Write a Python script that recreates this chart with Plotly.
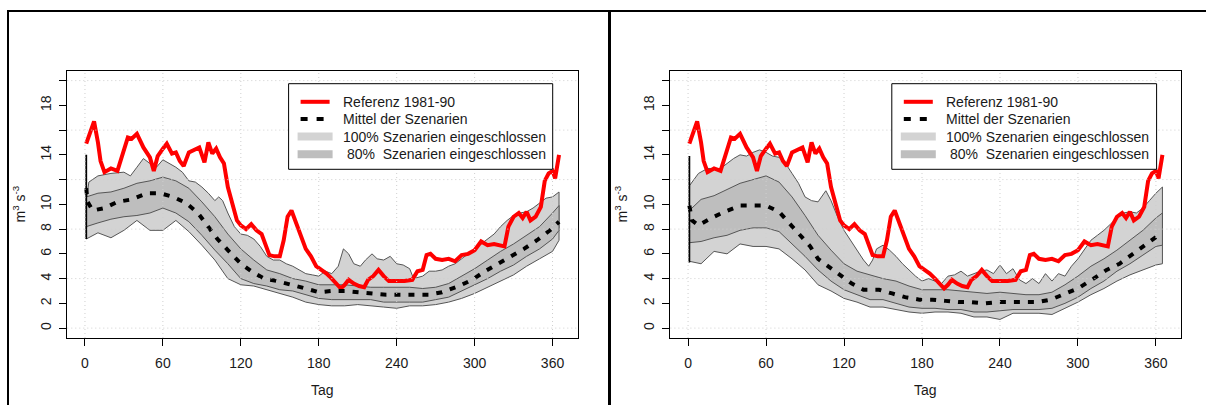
import plotly.graph_objects as go

W, H = 1206, 405

# Referenz 1981-90 (identisch in beiden Panels)
REF_DAY = [1, 4, 7, 10, 12, 15, 20, 25, 28, 33,
           36, 40, 45, 50, 53, 56, 60, 63, 67, 70,
           73, 76, 80, 85, 88, 92, 95, 98, 101, 104,
           107, 110, 113, 117, 120, 124, 128, 132, 136, 139,
           142, 146, 150, 153, 156, 159, 162, 166, 170, 174,
           178, 182, 186, 190, 194, 197, 200, 203, 207, 211,
           215, 218, 222, 226, 230, 234, 240, 246, 252, 256,
           260, 263, 266, 270, 275, 280, 285, 290, 295, 300,
           305, 310, 315, 320, 323, 326, 330, 334, 337, 340,
           343, 347, 351, 354, 357, 360, 362, 365]
REF_VAL = [14.9, 15.9, 16.7, 15.0, 13.5, 12.6, 12.9, 12.7, 13.8, 15.4,
           15.3, 15.7, 14.6, 13.8, 12.7, 13.9, 14.5, 14.9, 14.1, 14.2,
           13.5, 13.1, 14.2, 14.5, 14.6, 13.4, 15.0, 14.1, 14.5, 13.8,
           13.3, 11.4, 10.3, 8.7, 8.3, 8.0, 8.4, 7.9, 7.6, 6.8,
           5.9, 5.8, 5.8, 7.1, 9.0, 9.5, 8.6, 7.6, 6.4, 5.8,
           5.0, 4.7, 4.4, 4.0, 3.6, 3.2, 3.5, 3.9, 3.6, 3.4,
           3.3, 3.9, 4.2, 4.7, 4.2, 3.8, 3.8, 3.8, 3.9, 4.6,
           4.7, 5.9, 6.0, 5.6, 5.5, 5.6, 5.4, 5.9, 6.0, 6.3,
           7.0, 6.7, 6.8, 6.7, 6.6, 8.2, 9.0, 9.3, 8.9, 9.4,
           8.7, 9.0, 9.8, 11.9, 12.5, 12.7, 12.1, 14.0]

# day grid used for most band edges
BAND_DAY = [1, 10, 20, 30, 40, 50, 60, 70, 80, 90,
            100, 110, 120, 130, 140, 150, 160, 170, 180, 190,
            200, 210, 220, 230, 240, 250, 260, 270, 280, 290,
            300, 310, 320, 330, 340, 350, 360, 365]

# ---- left panel ----
L_MEAN_DAY = [1, 2, 6, 15, 25, 36, 48, 58, 68, 78,
              87, 95, 102, 110, 120, 128, 138, 148, 160, 170,
              180, 190, 200, 210, 222, 232, 243, 255, 265, 275,
              288, 298, 308, 318, 328, 338, 348, 358, 365]
L_MEAN = [11.3, 10.2, 9.5, 9.7, 10.2, 10.4, 10.9, 10.9, 10.6, 10.1,
          9.3, 8.2, 7.2, 6.3, 5.2, 4.6, 4.0, 3.8, 3.5, 3.2,
          2.9, 3.0, 3.0, 2.9, 2.8, 2.7, 2.7, 2.7, 2.7, 2.9,
          3.4, 3.9, 4.6, 5.2, 5.8, 6.4, 7.1, 7.9, 8.6]
L_P80_HI = [10.6, 10.9, 11.0, 11.3, 11.7, 11.9, 12.2, 11.9, 11.3, 10.2,
            9.0, 7.6, 6.4, 5.5, 4.7, 4.4, 4.0, 3.8, 3.5, 3.5,
            3.5, 3.4, 3.3, 3.3, 3.3, 3.3, 3.2, 3.3, 3.6, 4.2,
            4.8, 5.5, 6.2, 6.8, 7.5, 8.2, 9.3, 9.9]
L_P80_LO = [8.2, 8.5, 8.8, 9.0, 9.1, 9.3, 9.7, 9.3, 8.6, 7.5,
            6.3, 5.2, 4.0, 3.6, 3.4, 3.1, 3.0, 2.7, 2.4, 2.3,
            2.3, 2.3, 2.3, 2.1, 2.1, 2.1, 2.1, 2.3, 2.5, 3.0,
            3.5, 4.0, 4.6, 5.1, 5.8, 6.4, 7.2, 7.9]
L_P100_LO = [7.2, 7.7, 7.3, 7.9, 8.7, 7.9, 7.9, 8.7, 7.8, 6.7,
             5.5, 4.0, 3.5, 3.4, 3.1, 2.8, 2.5, 2.1, 1.9, 1.8,
             1.8, 1.9, 1.8, 1.7, 1.6, 1.8, 1.8, 1.9, 2.1, 2.4,
             2.8, 3.3, 3.8, 4.3, 5.0, 5.6, 6.2, 7.1]
L_P100_HI_DAY = [1, 3, 10, 20, 30, 35, 40, 45, 50, 55,
                 60, 65, 70, 75, 80, 85, 90, 95, 100, 103,
                 106, 110, 115, 120, 125, 130, 135, 140, 145, 150,
                 155, 160, 165, 170, 175, 180, 185, 190, 195, 199,
                 203, 207, 212, 216, 221, 225, 230, 235, 240, 245,
                 250, 253, 260, 265, 270, 275, 280, 285, 290, 295,
                 300, 305, 310, 315, 320, 325, 330, 335, 340, 345,
                 350, 355, 360, 365]
L_P100_HI = [10.3, 11.8, 12.3, 12.5, 12.6, 12.3, 13.0, 13.7, 13.3, 13.0,
             13.6, 13.3, 13.0, 12.6, 11.9, 11.8, 11.4, 10.9, 10.3, 10.6,
             10.3, 9.3, 8.2, 7.6, 7.5, 7.2, 6.6, 5.8, 5.5, 5.5,
             5.2, 5.0, 4.7, 4.4, 4.3, 4.2, 4.6, 4.4, 5.0, 6.4,
             6.0, 5.2, 5.0, 5.5, 6.0, 5.6, 5.5, 5.8, 5.2, 5.1,
             4.8, 4.0, 4.2, 4.6, 4.6, 4.7, 5.0, 5.2, 5.6, 6.0,
             6.4, 6.8, 7.2, 7.6, 8.2, 8.7, 9.1, 9.3, 9.4, 9.7,
             10.1, 10.5, 10.6, 11.0]
L_START = [7.2, 14.0]

# ---- right panel ----
R_MEAN_DAY = [1, 3, 8, 18, 28, 40, 50, 60, 70, 78,
              86, 94, 100, 108, 117, 126, 135, 147, 157, 167,
              178, 188, 198, 208, 218, 229, 239, 249, 259, 269,
              279, 290, 300, 312, 322, 332, 342, 352, 362, 365]
R_MEAN = [9.9, 8.7, 8.3, 8.9, 9.4, 9.9, 9.9, 9.9, 9.4, 8.5,
          7.5, 6.6, 5.6, 5.0, 4.3, 3.6, 3.1, 3.1, 2.8, 2.5,
          2.3, 2.3, 2.2, 2.1, 2.1, 2.0, 2.1, 2.1, 2.1, 2.1,
          2.3, 2.8, 3.2, 4.0, 4.7, 5.2, 6.0, 6.7, 7.5, 7.6]
R_P80_HI = [9.5, 10.4, 10.7, 11.2, 11.7, 12.0, 12.3, 11.8, 10.6, 9.1,
            7.5, 6.3, 5.2, 4.6, 4.3, 4.0, 3.8, 3.4, 3.1, 3.1,
            3.1, 3.0, 2.9, 2.8, 2.9, 2.8, 2.7, 2.7, 2.9, 3.5,
            4.2, 5.0, 5.6, 6.3, 7.1, 7.9, 8.9, 9.3]
R_P80_LO = [6.9, 7.0, 7.3, 7.5, 7.9, 8.1, 8.1, 7.8, 6.8, 5.8,
            4.7, 3.8, 3.1, 2.7, 2.3, 2.3, 2.0, 1.7, 1.6, 1.6,
            1.5, 1.5, 1.3, 1.3, 1.4, 1.5, 1.5, 1.5, 1.6, 2.0,
            2.5, 3.2, 3.8, 4.6, 5.2, 5.9, 6.6, 6.7]
R_P100_LO = [5.4, 5.2, 6.2, 6.0, 6.8, 6.6, 6.6, 6.4, 5.6, 4.7,
             3.5, 3.0, 2.4, 2.1, 1.7, 1.7, 1.5, 1.3, 1.2, 1.3,
             1.3, 1.2, 0.9, 0.9, 0.7, 1.2, 1.2, 1.2, 1.1, 1.6,
             2.1, 2.7, 3.2, 3.8, 4.3, 4.7, 5.1, 5.2]
R_P100_HI_DAY = [1, 3, 8, 15, 20, 25, 30, 35, 40, 45,
                 50, 55, 60, 65, 70, 75, 80, 85, 90, 95,
                 100, 103, 106, 110, 115, 120, 125, 130, 135, 139,
                 142, 145, 150, 155, 160, 165, 170, 175, 180, 185,
                 190, 195, 200, 205, 210, 215, 220, 225, 230, 235,
                 240, 245, 250, 255, 260, 265, 270, 275, 280, 285,
                 290, 295, 300, 305, 310, 315, 320, 325, 330, 335,
                 340, 345, 350, 355, 360, 365]
R_P100_HI = [11.5, 11.8, 12.5, 12.9, 12.9, 12.9, 13.3, 13.7, 14.0, 13.9,
             14.2, 14.4, 14.2, 13.9, 13.8, 13.3, 12.5, 11.7, 10.6, 10.3,
             10.2, 10.7, 11.1, 10.3, 9.0, 7.9, 7.1, 6.3, 5.5, 5.0,
             5.5, 6.4, 6.7, 6.3, 5.8, 5.2, 4.7, 4.2, 3.8, 4.0,
             3.8, 3.6, 4.2, 4.3, 4.6, 4.2, 4.4, 4.6, 4.7, 4.4,
             5.1, 4.4, 4.8, 3.9, 3.6, 4.0, 3.6, 4.4, 3.8, 4.4,
             4.2, 5.0, 5.6, 6.4, 7.1, 7.5, 7.9, 8.4, 8.9, 9.3,
             9.4, 9.3, 9.7, 10.3, 10.9, 11.4]
R_START = [5.3, 13.9]

X_TICKS = [0, 60, 120, 180, 240, 300, 360]
Y_TICKS = [0, 2, 4, 6, 8, 10, 14, 18]          # labelled ticks
Y_GRID = [0, 4, 8, 12, 16, 20]

LEGEND_TEXT = ["Referenz 1981-90", "Mittel der Szenarien",
               "100% Szenarien eingeschlossen",
               "\u00a080%\u00a0\u00a0Szenarien eingeschlossen"]

assert len(REF_DAY) == len(REF_VAL)
assert len(L_MEAN_DAY) == len(L_MEAN) and len(R_MEAN_DAY) == len(R_MEAN)
assert len(L_P100_HI_DAY) == len(L_P100_HI) and len(R_P100_HI_DAY) == len(R_P100_HI)
for arr in (L_P80_HI, L_P80_LO, L_P100_LO, R_P80_HI, R_P80_LO, R_P100_LO):
    assert len(arr) == len(BAND_DAY)

# colours
RED = "#ff0000"
LIGHT = "#d3d3d3"
DARK = "#bebebe"
EDGE = "#555555"
GRID = "#cfcfcf"
FONT = "Liberation Sans, Arial, sans-serif"
DOTS = "6px,8px"
TXT = "#1a1a1a"


def px(x):
    return x / W


def py(y):
    return 1 - y / H


def band(day_hi, hi, day_lo, lo, fill, xa, ya):
    return go.Scatter(
        x=list(day_hi) + list(day_lo)[::-1],
        y=list(hi) + list(lo)[::-1],
        fill="toself", fillcolor=fill, mode="lines",
        line=dict(color=EDGE, width=1),
        xaxis=xa, yaxis=ya, hoverinfo="skip",
    )


panels = [
    dict(xa="x", ya="y", mean_day=L_MEAN_DAY, mean=L_MEAN,
         p80=(L_P80_HI, L_P80_LO), p100=(L_P100_HI_DAY, L_P100_HI, L_P100_LO),
         start=L_START, box=(67.3, 578.0), leg=(288.6, 552.7), ytitle=19.5),
    dict(xa="x2", ya="y2", mean_day=R_MEAN_DAY, mean=R_MEAN,
         p80=(R_P80_HI, R_P80_LO), p100=(R_P100_HI_DAY, R_P100_HI, R_P100_LO),
         start=R_START, box=(670.4, 1181.4), leg=(891.8, 1156.6), ytitle=621.5),
]

fig = go.Figure()
shapes = []
annotations = []
BOX_T, BOX_B = 70.7, 338.0

for i, p in enumerate(panels):
    xa, ya = p["xa"], p["ya"]
    hi_day, hi100, lo100 = p["p100"]
    hi80, lo80 = p["p80"]
    fig.add_trace(band(hi_day, hi100, BAND_DAY, lo100, LIGHT, xa, ya))
    fig.add_trace(band(BAND_DAY, hi80, BAND_DAY, lo80, DARK, xa, ya))
    fig.add_trace(go.Scatter(
        x=[BAND_DAY[0], BAND_DAY[0]], y=p["start"], mode="lines",
        line=dict(color="black", width=1.8), xaxis=xa, yaxis=ya))
    fig.add_trace(go.Scatter(
        x=REF_DAY, y=REF_VAL, mode="lines",
        line=dict(color=RED, width=4), xaxis=xa, yaxis=ya))
    fig.add_trace(go.Scatter(
        x=p["mean_day"], y=p["mean"], mode="lines",
        line=dict(color="black", width=4, dash=DOTS), xaxis=xa, yaxis=ya))

    sfx = "" if i == 0 else "2"
    l, r = p["box"]
    fig.update_layout(**{
        "xaxis" + sfx: dict(
            domain=[px(l), px(r)], range=[-13.6, 379.6], anchor=ya,
            tickvals=X_TICKS, ticks="outside", ticklen=7, tickcolor="black",
            showline=True, mirror=True, linecolor="black", linewidth=1,
            showgrid=False, zeroline=False, ticklabelstandoff=5,
            tickfont=dict(family=FONT, size=14, color=TXT)),
        "yaxis" + sfx: dict(
            domain=[py(BOX_B), py(BOX_T)], range=[-0.8, 20.8], anchor=xa,
            tickvals=Y_TICKS, tickangle=-90,
            ticks="outside", ticklen=7, tickcolor="black",
            minor=dict(tick0=0, dtick=2, ticks="outside", ticklen=7,
                       tickcolor="black", showgrid=False),
            showline=True, mirror=True, linecolor="black", linewidth=1,
            showgrid=False, zeroline=False, ticklabelstandoff=3,
            tickfont=dict(family=FONT, size=14, color=TXT)),
    })

    # dotted grid, drawn over the bands as in the original
    for gx in X_TICKS:
        shapes.append(dict(type="line", xref=xa, yref=ya + " domain",
                           x0=gx, x1=gx, y0=0, y1=1, layer="above",
                           line=dict(color=GRID, width=1, dash="1px,3px")))
    for gy in Y_GRID:
        shapes.append(dict(type="line", xref=xa + " domain", yref=ya,
                           x0=0, x1=1, y0=gy, y1=gy, layer="above",
                           line=dict(color=GRID, width=1, dash="1px,3px")))

    # legend (drawn by hand to mimic base-R legend)
    ll, lr = p["leg"]
    shapes.append(dict(type="rect", xref="paper", yref="paper",
                       x0=px(ll), x1=px(lr), y0=py(169.3), y1=py(83.7),
                       fillcolor="white", line=dict(color="black", width=1),
                       layer="above"))
    rows = [101.8, 119.0, 136.5, 154.2]
    sw0, sw1 = ll + 12, ll + 41
    shapes.append(dict(type="line", xref="paper", yref="paper",
                       x0=px(sw0), x1=px(sw1), y0=py(rows[0]), y1=py(rows[0]),
                       line=dict(color=RED, width=4), layer="above"))
    shapes.append(dict(type="line", xref="paper", yref="paper",
                       x0=px(sw0), x1=px(sw1), y0=py(rows[1]), y1=py(rows[1]),
                       line=dict(color="black", width=4, dash="7px,9px"),
                       layer="above"))
    for row, col in ((rows[2], LIGHT), (rows[3], DARK)):
        shapes.append(dict(type="line", xref="paper", yref="paper",
                           x0=px(sw0 - 3), x1=px(sw1 + 3), y0=py(row), y1=py(row),
                           line=dict(color=col, width=8), layer="above"))
    for row, txt in zip(rows, LEGEND_TEXT):
        annotations.append(dict(xref="paper", yref="paper", x=px(ll + 52),
                                y=py(row), text=txt, showarrow=False,
                                xanchor="left", yanchor="middle",
                                font=dict(family=FONT, size=14, color=TXT)))

    annotations.append(dict(xref="paper", yref="paper", x=px((l + r) / 2),
                            y=py(390), text="Tag", showarrow=False,
                            xanchor="center", yanchor="middle",
                            font=dict(family=FONT, size=14, color=TXT)))
    annotations.append(dict(xref="paper", yref="paper", x=px(p["ytitle"]),
                            y=py(204), text="m<sup>3</sup> s<sup>-3</sup>",
                            textangle=-90, showarrow=False,
                            xanchor="center", yanchor="middle",
                            font=dict(family=FONT, size=14, color=TXT)))

# outer frame of the two device regions
frame = dict(color="black", width=2)
shapes += [
    dict(type="line", xref="paper", yref="paper", x0=px(7), x1=1,
         y0=py(11), y1=py(11), line=frame),
    dict(type="line", xref="paper", yref="paper", x0=px(8), x1=px(8),
         y0=py(10), y1=0, line=frame),
    dict(type="line", xref="paper", yref="paper", x0=px(609.5), x1=px(609.5),
         y0=py(10), y1=0, line=dict(color="black", width=3)),
]

fig.update_layout(
    width=W, height=H,
    margin=dict(l=0, r=0, t=0, b=0),
    paper_bgcolor="white", plot_bgcolor="white",
    showlegend=False,
    font=dict(family=FONT, size=14),
    shapes=shapes, annotations=annotations,
)

# the page's default body margin would shift the figure by 8 px
fig.write_html("out.html", config={"displayModeBar": False},
               post_script="document.body.style.margin = '0';")
